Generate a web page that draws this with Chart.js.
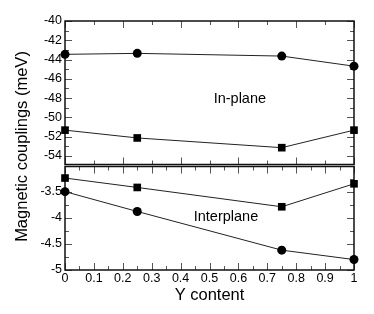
<!DOCTYPE html>
<html><head><meta charset="utf-8">
<script src="https://cdn.jsdelivr.net/npm/chart.js@4/dist/chart.umd.min.js"></script>
<style>html,body{margin:0;padding:0;background:#fff}#wrap{width:374px;height:314px;position:relative}canvas{display:block}</style>
</head><body><div id="wrap"><canvas id="c" width="374" height="314"></canvas></div>
<script>
// ---- data ----
const yContent = [0, 0.25, 0.75, 1];
const inPlaneCircle = [-43.46, -43.36, -43.64, -44.69];
const inPlaneSquare = [-51.33, -52.14, -53.15, -51.33];
const interSquare = [-3.24, -3.42, -3.79, -3.35];
const interCircle = [-3.50, -3.88, -4.62, -4.80];
const xTickValues = [0, 0.1, 0.2, 0.3, 0.4, 0.5, 0.6, 0.7, 0.8, 0.9, 1];
const xTickLabels = ['0', '0.1', '0.2', '0.3', '0.4', '0.5', '0.6', '0.7', '0.8', '0.9', '1'];
const topTickValues = [-54, -52, -50, -48, -46, -44, -42, -40];
const topTickLabels = ['-54', '-52', '-50', '-48', '-46', '-44', '-42', '-40'];
const botTickValues = [-5, -4.5, -4, -3.5];
const botTickLabels = ['-5', '-4.5', '-4', '-3.5'];
const panelLabels = ['In-plane', 'Interplane'];
const xTitle = 'Y content';
const yTitle = 'Magnetic couplings (meV)';

const FONT = '"Liberation Sans", Arial, Helvetica, sans-serif';
Chart.defaults.font.family = FONT;
Chart.defaults.color = '#000';

const pts = (ys) => yContent.map((x, i) => ({x: x, y: ys[i]}));
const ds = (data, axis, style, radius) => ({
  data: pts(data), yAxisID: axis, showLine: true, borderColor: '#222', borderWidth: 1,
  pointStyle: style, pointRadius: radius, pointBackgroundColor: '#000', pointBorderColor: '#000',
  pointBorderWidth: 0, clip: false
});

function range(a, b, s) { const r = []; for (let v = a; v <= b + 1e-9; v += s) r.push(+v.toFixed(4)); return r; }

const framePlugin = {
  id: 'frames',
  beforeDatasetsDraw(chart) {
    const ctx = chart.ctx, x = chart.scales.x, yt = chart.scales.yTop, yb = chart.scales.yBot;
    const L = x.left, R = x.right;
    const panels = [
      {s: yt, top: yt.top, bot: yt.bottom - 1, xMaj: range(0, 1, 0.2), xMin: range(0, 1, 0.1), yMaj: range(-54, -40, 2), yMin: range(-55, -40, 1)},
      {s: yb, top: yb.top + 1, bot: yb.bottom, xMaj: range(0, 1, 0.1), xMin: range(0, 1, 0.05), yMaj: range(-5, -3, 0.5), yMin: range(-5, -3, 0.25)}
    ];
    ctx.save();
    const MAJ = 7, MIN = 4;
    panels.forEach(p => {
      ctx.strokeStyle = '#555';
      ctx.lineWidth = 1;
      ctx.beginPath();
      p.xMin.forEach(v => { const px = Math.round(x.getPixelForValue(v)) + 0.5; ctx.moveTo(px, p.top); ctx.lineTo(px, p.top + MIN); ctx.moveTo(px, p.bot); ctx.lineTo(px, p.bot - MIN); });
      p.xMaj.forEach(v => { const px = Math.round(x.getPixelForValue(v)) + 0.5; ctx.moveTo(px, p.top); ctx.lineTo(px, p.top + MAJ); ctx.moveTo(px, p.bot); ctx.lineTo(px, p.bot - MAJ); });
      p.yMin.forEach(v => { const py = Math.round(p.s.getPixelForValue(v)) + 0.5; ctx.moveTo(L, py); ctx.lineTo(L + MIN, py); ctx.moveTo(R, py); ctx.lineTo(R - MIN, py); });
      p.yMaj.forEach(v => { const py = Math.round(p.s.getPixelForValue(v)) + 0.5; ctx.moveTo(L, py); ctx.lineTo(L + MAJ, py); ctx.moveTo(R, py); ctx.lineTo(R - MAJ, py); });
      ctx.stroke();
      ctx.strokeStyle = '#111';
      ctx.lineWidth = 1.5;
      ctx.strokeRect(L, p.top, R - L, p.bot - p.top);
    });
    ctx.restore();
  },
  afterDraw(chart) {
    const ctx = chart.ctx, x = chart.scales.x, yt = chart.scales.yTop, yb = chart.scales.yBot;
    ctx.save();
    ctx.fillStyle = '#000';
    ctx.font = '14.5px ' + FONT;
    ctx.textAlign = 'center';
    ctx.textBaseline = 'middle';
    ctx.fillText(panelLabels[0], x.getPixelForValue(0.605), yt.getPixelForValue(-48.08));
    ctx.fillText(panelLabels[1], x.getPixelForValue(0.557), yb.getPixelForValue(-3.98));
    ctx.font = '16.5px ' + FONT;
    ctx.translate(22, 146.5);
    ctx.rotate(-Math.PI / 2);
    ctx.fillText(yTitle, 0, 0);
    ctx.restore();
  }
};

const tickFont = {size: 12.5, family: FONT};
new Chart(document.getElementById('c'), {
  type: 'scatter',
  data: {datasets: [
    ds(inPlaneCircle, 'yTop', 'circle', 4.5),
    ds(inPlaneSquare, 'yTop', 'rect', 5.4),
    ds(interSquare, 'yBot', 'rect', 5.4),
    ds(interCircle, 'yBot', 'circle', 4.5)
  ]},
  options: {
    responsive: false, devicePixelRatio: 1, animation: false, events: [],
    layout: {padding: {left: 20, right: 20, top: 21, bottom: 0}},
    plugins: {legend: {display: false}, tooltip: {enabled: false}},
    scales: {
      x: {
        type: 'linear', position: 'bottom', min: 0, max: 1,
        grid: {display: false, drawTicks: false}, border: {display: false},
        afterBuildTicks: s => { s.ticks = xTickValues.map(v => ({value: v})); },
        ticks: {font: tickFont, padding: 1, maxRotation: 0, autoSkip: false, callback: (v, i) => xTickLabels[i]},
        title: {display: true, text: xTitle, font: {size: 16.5, family: FONT}, padding: {top: 0, bottom: 9}},
        afterFit: s => { s.height = 44; }
      },
      yTop: {
        type: 'linear', position: 'left', stack: 'v', stackWeight: 144.5, weight: 2, min: -55, max: -40,
        grid: {display: false, drawTicks: false}, border: {display: false},
        afterBuildTicks: s => { s.ticks = topTickValues.map(v => ({value: v})); },
        ticks: {font: tickFont, padding: 3, autoSkip: false, callback: (v, i) => topTickLabels[i]},
        afterFit: s => { s.width = 45; }
      },
      yBot: {
        type: 'linear', position: 'left', stack: 'v', stackWeight: 104.5, weight: 1, min: -5, max: -3,
        grid: {display: false, drawTicks: false}, border: {display: false},
        afterBuildTicks: s => { s.ticks = botTickValues.map(v => ({value: v})); },
        ticks: {font: tickFont, padding: 3, autoSkip: false, callback: (v, i) => botTickLabels[i]},
        afterFit: s => { s.width = 45; }
      }
    }
  },
  plugins: [framePlugin]
});
</script></body></html>
